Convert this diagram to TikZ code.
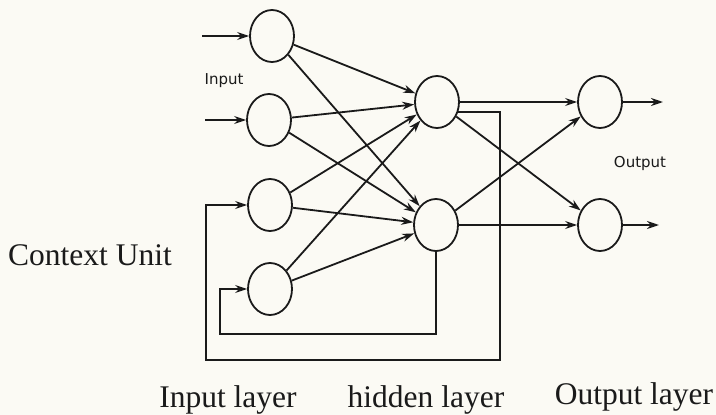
\documentclass[tikz,border=0pt]{standalone}
\usepackage{fontspec}
\setmainfont{Liberation Serif}
\newfontfamily\labelsans{DejaVu Sans}
\usetikzlibrary{shapes.geometric,arrows.meta}
\definecolor{ink}{HTML}{1A1A1A}
\definecolor{paper}{HTML}{FBFAF4}
\begin{document}
\begin{tikzpicture}[x=1pt,y=-1pt,
  neuron/.style={ellipse, draw=ink, line width=1.8pt, minimum width=44pt, minimum height=52pt, inner sep=0pt},
  conn/.style={draw=ink, line width=1.8pt, -{Stealth[length=12pt,width=8pt]}},
  big/.style={font=\fontsize{31.5}{36}\selectfont, inner sep=0pt, anchor=base, text=ink},
  small/.style={font=\labelsans\fontsize{15}{18}\selectfont, inner sep=0pt, anchor=base, text=ink}]
\fill[paper] (0,0) rectangle (716,415);
\useasboundingbox (0,0) rectangle (716,415);

% neurons
\node[neuron] (I1) at (272,36) {};
\node[neuron] (I2) at (269,120) {};
\node[neuron] (I3) at (270,205) {};
\node[neuron] (I4) at (270,289) {};
\node[neuron] (H1) at (437,102) {};
\node[neuron] (H2) at (436,225) {};
\node[neuron] (O1) at (600,102) {};
\node[neuron] (O2) at (600,225) {};

% free ends
\coordinate (in1) at (202,36);
\coordinate (in2) at (205,120);
\coordinate (out1) at (663,102);
\coordinate (out2) at (659,225);
\coordinate (fo1) at (500,360);
\coordinate (fo2) at (206,360);
\coordinate (fi1) at (220,334);

% external inputs / outputs
\draw[conn] (in1) -- (I1);
\draw[conn] (in2) -- (I2);
\draw[conn] (O1) -- (out1);
\draw[conn] (O2) -- (out2);

% input -> hidden
\foreach \i in {I1,I2,I3,I4}{
  \draw[conn] (\i) -- (H1);
  \draw[conn] (\i) -- (H2);
}

% hidden -> output
\draw[conn] (H1) -- (O1);
\draw[conn] (H1) -- (O2);
\draw[conn] (H2) -- (O1);
\draw[conn] (H2) -- (O2);

% context feedback loops
\draw[conn] (H1.-26) -| (fo1) -- (fo2) |- (I3);
\draw[conn] (H2.south) |- (fi1) |- (I4);

% labels
\node[small] (lin) at (224,84) {Input};
\node[small] (lout) at (640,167) {Output};
\node[big] (lctx) at (90,265) {Context Unit};
\node[big] (lil) at (228,407) {Input layer};
\node[big] (lhl) at (426,407) {hidden layer};
\node[big] (lol) at (634,404) {Output layer};
\end{tikzpicture}
\end{document}
